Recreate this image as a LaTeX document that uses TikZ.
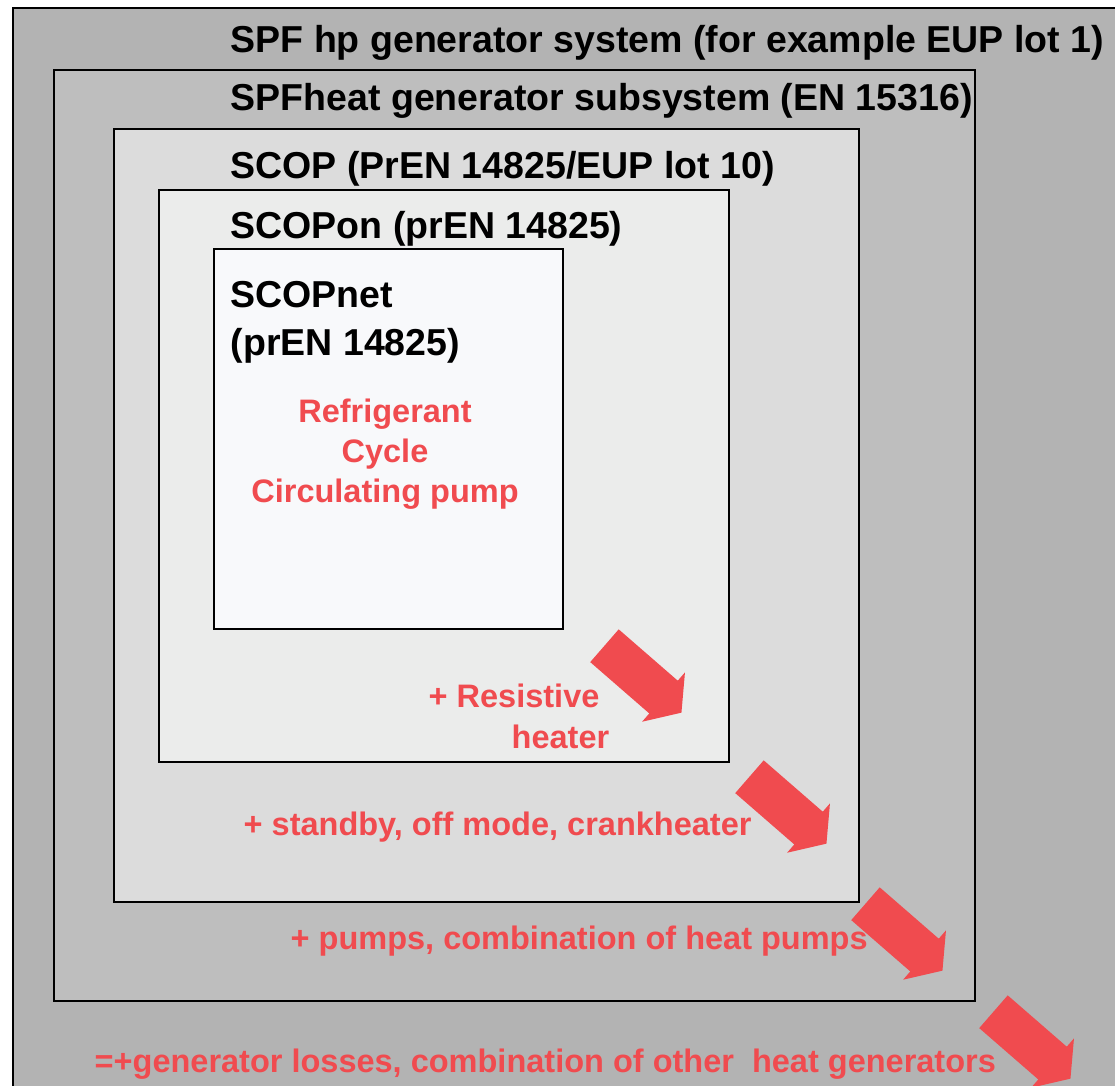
\documentclass[tikz,border=0pt]{standalone}
\usepackage{fontspec}
\setmainfont{Liberation Sans}
\usetikzlibrary{shapes.arrows}

\definecolor{systemgray}{HTML}{B3B3B3}
\definecolor{subsysgray}{HTML}{BEBEBE}
\definecolor{scopgray}{HTML}{DCDCDC}
\definecolor{scopongray}{HTML}{EBECEB}
\definecolor{scopnetgray}{HTML}{F8F9FB}
\definecolor{lossred}{HTML}{F04B4F}

\begin{document}
\begin{tikzpicture}[
                x = 1pt, y = -1pt, % pixel units, y going down
                line width = 1.4pt % box border
            ]

            \tikzstyle{every node}=[inner sep = 0pt]
            \tikzstyle{layer}=[draw = black]
            \tikzstyle{level}=[anchor = base west,
            font = \fontsize{37.5}{40}\selectfont\bfseries]
            \tikzstyle{extra}=[anchor = base west, text = lossred,
            font = \fontsize{32.5}{40}\selectfont\bfseries]
            \tikzstyle{flow}=[single arrow, fill = lossred, draw = none,
            inner xsep = 0pt, inner ysep = 21pt, % half the shaft width
            minimum height = 102pt,
            single arrow head extend = 11pt, single arrow tip angle = 108,
            rotate = -41]

            \useasboundingbox (0,0) rectangle (1115,1085);
            \fill[white] (0,0) rectangle (1115,1085);

            % nested boxes, outside in
            \draw[layer, fill = systemgray] (13,8) rectangle (1140,1110);
            \draw[layer, fill = subsysgray] (54,70) rectangle (975,1001);
            \draw[layer, fill = scopgray] (114,129) rectangle (859,902);
            \draw[layer, fill = scopongray] (159,190) rectangle (729,762);
            \draw[layer, fill = scopnetgray] (214,249) rectangle (563,629);

            \node (spf) [level] at (230,52)
            {SPF hp generator system (for example EUP lot 1)};
            \node (spfheat) [level] at (230,110)
            {SPFheat generator subsystem (EN 15316)};
            \node (scop) [level] at (230,178) {SCOP (PrEN 14825/EUP lot 10)};
            \node (scopon) [level] at (230,238) {SCOPon (prEN 14825)};
            \node (scopnet) [level] at (230,307) {SCOPnet};
            \node (scopnetnorm) [level] at (230,355) {(prEN 14825)};

            % base of a multi line node is its last line
            \node (cycle) [extra, anchor = base, align = center] at (385,502)
            {Refrigerant\\Cycle\\Circulating pump};
            \node (resistive) [extra] at (428,707) {+ Resistive};
            \node (heater) [extra] at (511,748) {heater};
            \node (standby) [extra] at (243,835)
            {+ standby, off mode, crankheater};
            \node (pumps) [extra] at (290,949)
            {+ pumps, combination of heat pumps};
            \node (losses) [extra] at (94,1072)
            {=+generator losses, combination of other\ \ heat generators};

            \node (arr1) [flow] at (637,674) {};
            \node (arr2) [flow] at (782,805) {};
            \node (arr3) [flow] at (898,932) {};
            \node (arr4) [flow] at (1026,1040) {};

        \end{tikzpicture}
\end{document}
